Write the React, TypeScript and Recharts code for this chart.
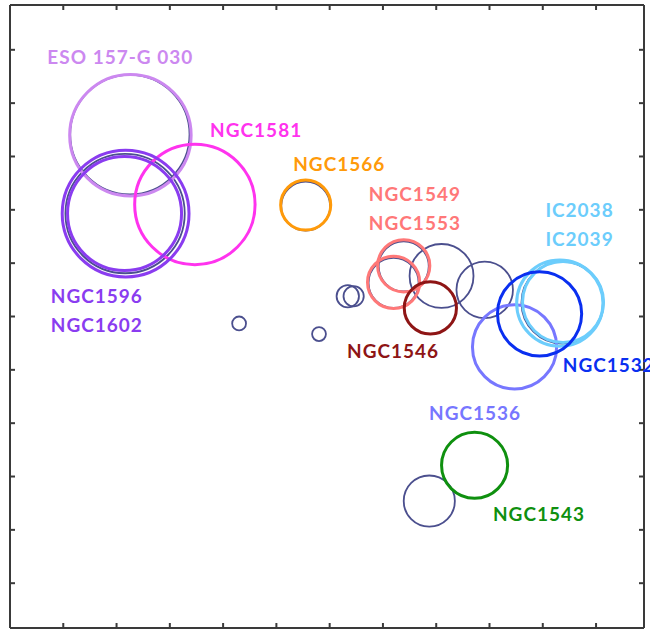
import { ScatterChart, Scatter, XAxis, YAxis, ZAxis, ReferenceLine } from "recharts";

// axis ticks (label text is cropped off in the source figure)
const xTicks = [1, 2, 3, 4, 5, 6, 7, 8, 9, 10, 11];
const yTicks = [1, 2, 3, 4, 5, 6, 7, 8, 9, 10, 11];

// all galaxies in the sample (x, y, radius in axis units)
const sampleGalaxies = [
  { x: 4.3, y: 5.87, r: 0.13 },
  { x: 5.8, y: 5.67, r: 0.13 },
  { x: 6.34, y: 6.38, r: 0.21 },
  { x: 6.45, y: 6.38, r: 0.19 },
  { x: 8.1, y: 6.76, r: 0.6 },
  { x: 8.91, y: 6.5, r: 0.53 },
  { x: 7.87, y: 2.54, r: 0.48 },
  { x: 2.25, y: 9.41, r: 1.12 },
  { x: 2.16, y: 7.93, r: 1.12 },
  { x: 5.55, y: 8.07, r: 0.46 },
  { x: 7.39, y: 6.94, r: 0.47 },
  { x: 7.2, y: 6.63, r: 0.47 },
  { x: 10.37, y: 6.26, r: 0.77 },
];

// named galaxies, drawn on top
const namedGalaxies = [
  { name: "ESO 157-G 030", group: "eso", x: 2.26, y: 9.4, r: 1.14 },
  { name: "NGC1581", group: "ngc1581", x: 3.47, y: 8.1, r: 1.13 },
  { name: "NGC1596", group: "ngc1596", x: 2.17, y: 7.93, r: 1.19 },
  { name: "NGC1602", group: "ngc1596", x: 2.15, y: 7.93, r: 1.07 },
  { name: "NGC1566", group: "ngc1566", x: 5.55, y: 8.09, r: 0.47 },
  { name: "NGC1549", group: "ngc1549", x: 7.39, y: 6.95, r: 0.49 },
  { name: "NGC1553", group: "ngc1549", x: 7.2, y: 6.64, r: 0.49 },
  { name: "NGC1546", group: "ngc1546", x: 7.89, y: 6.16, r: 0.49 },
  { name: "NGC1536", group: "ngc1536", x: 9.47, y: 5.43, r: 0.79 },
  { name: "IC2038", group: "ic2038", x: 10.32, y: 6.25, r: 0.81 },
  { name: "IC2039", group: "ic2038", x: 10.38, y: 6.27, r: 0.76 },
  { name: "NGC1532", group: "ngc1532", x: 9.94, y: 6.05, r: 0.79 },
  { name: "NGC1543", group: "ngc1543", x: 8.72, y: 3.21, r: 0.62 },
];

// label anchors (text centre, baseline) in axis units
const galaxyLabels = [
  { text: "ESO 157-G 030", group: "eso", x: 2.07, y: 10.74 },
  { text: "NGC1581", group: "ngc1581", x: 4.62, y: 9.37 },
  { text: "NGC1566", group: "ngc1566", x: 6.18, y: 8.73 },
  { text: "NGC1549", group: "ngc1549", x: 7.6, y: 8.16 },
  { text: "NGC1553", group: "ngc1549", x: 7.6, y: 7.62 },
  { text: "IC2038", group: "ic2038", x: 10.69, y: 7.87 },
  { text: "IC2039", group: "ic2038", x: 10.69, y: 7.33 },
  { text: "NGC1596", group: "ngc1596", x: 1.63, y: 6.25 },
  { text: "NGC1602", group: "ngc1596", x: 1.63, y: 5.71 },
  { text: "NGC1546", group: "ngc1546", x: 7.19, y: 5.22 },
  { text: "NGC1532", group: "ngc1532", x: 11.24, y: 4.96 },
  { text: "NGC1536", group: "ngc1536", x: 8.73, y: 4.06 },
  { text: "NGC1543", group: "ngc1543", x: 9.93, y: 2.16 },
];

const groupColors: Record<string, string> = {
  eso: "#cc88f0",
  ngc1581: "#ff33ee",
  ngc1596: "#8a3cf0",
  ngc1566: "#ff9a0a",
  ngc1549: "#ff7878",
  ngc1546: "#8e1515",
  ngc1536: "#7777ff",
  ic2038: "#6ccdfc",
  ngc1532: "#0a2ff0",
  ngc1543: "#0f900f",
};

const W = 650;
const H = 630;
// each axis reserves 1px, so the plot frame sits at left 10, top 5, right 644, bottom 628
const margin = { top: 4, right: 5, bottom: 1, left: 9 };
const xDomain = [0, 11.9];
const yDomain = [0.16, 11.84];
const pxPerUnitX = (W - margin.left - margin.right - 2) / (xDomain[1] - xDomain[0]);
const pxPerUnitY = (H - margin.top - margin.bottom - 2) / (yDomain[1] - yDomain[0]);

const sampleData = sampleGalaxies.map((g) => ({ ...g, z: g.r * g.r }));
const namedData = namedGalaxies.map((g) => ({ ...g, z: g.r * g.r }));

const axisColor = "#3a3a3a";
const labelFont = "Lato, 'Open Sans', sans-serif";
const TICK = 5;
const tickDx = TICK / pxPerUnitX;
const tickDy = TICK / pxPerUnitY;

function SampleRing(props: any) {
  const { cx, cy, width } = props;
  return <circle cx={cx} cy={cy} r={width / 2} fill="none" stroke="#4b4f8e" strokeWidth={1.8} />;
}

function NamedRing(props: any) {
  const { cx, cy, width, payload } = props;
  return (
    <circle cx={cx} cy={cy} r={width / 2} fill="none" stroke={groupColors[payload.group]} strokeWidth={3} />
  );
}

function GalaxyLabel(props: any) {
  const { cx, cy, payload } = props;
  return (
    <text
      x={cx}
      y={cy}
      textAnchor="middle"
      fill={groupColors[payload.group]}
      fontFamily={labelFont}
      fontWeight={700}
      fontSize={19}
      letterSpacing={1}
    >
      {payload.text}
    </text>
  );
}

// inward tick marks on all four sides of the frame
const tickSegments = [
  ...xTicks.map((t) => [{ x: t, y: yDomain[0] }, { x: t, y: yDomain[0] + tickDy }]),
  ...xTicks.map((t) => [{ x: t, y: yDomain[1] }, { x: t, y: yDomain[1] - tickDy }]),
  ...yTicks.map((t) => [{ x: xDomain[0], y: t }, { x: xDomain[0] + tickDx, y: t }]),
  ...yTicks.map((t) => [{ x: xDomain[1], y: t }, { x: xDomain[1] - tickDx, y: t }]),
];

const axisCommon = {
  type: "number" as const,
  tick: false,
  tickLine: false,
  stroke: axisColor,
  strokeWidth: 2,
};

export default function App() {
  return (
    <div style={{ position: "absolute", left: 0, top: 0, width: W, height: H, background: "#fff" }}>
      <ScatterChart width={W} height={H} margin={margin}>
        <XAxis {...axisCommon} xAxisId={0} dataKey="x" domain={xDomain} ticks={xTicks} height={1} />
        <XAxis {...axisCommon} xAxisId="top" orientation="top" domain={xDomain} ticks={xTicks} height={1} />
        <YAxis {...axisCommon} yAxisId={0} dataKey="y" domain={yDomain} ticks={yTicks} width={1} />
        <YAxis {...axisCommon} yAxisId="right" orientation="right" domain={yDomain} ticks={yTicks} width={1} />
        <ZAxis
          type="number"
          dataKey="z"
          domain={[0, 2]}
          range={[0, 2 * Math.PI * pxPerUnitX * pxPerUnitX]}
        />
        {tickSegments.map((seg, i) => (
          <ReferenceLine key={i} segment={seg} stroke={axisColor} strokeWidth={2} />
        ))}
        <Scatter data={sampleData} shape={SampleRing} isAnimationActive={false} />
        <Scatter data={namedData} shape={NamedRing} isAnimationActive={false} />
        <Scatter data={galaxyLabels} shape={GalaxyLabel} isAnimationActive={false} />
      </ScatterChart>
    </div>
  );
}
